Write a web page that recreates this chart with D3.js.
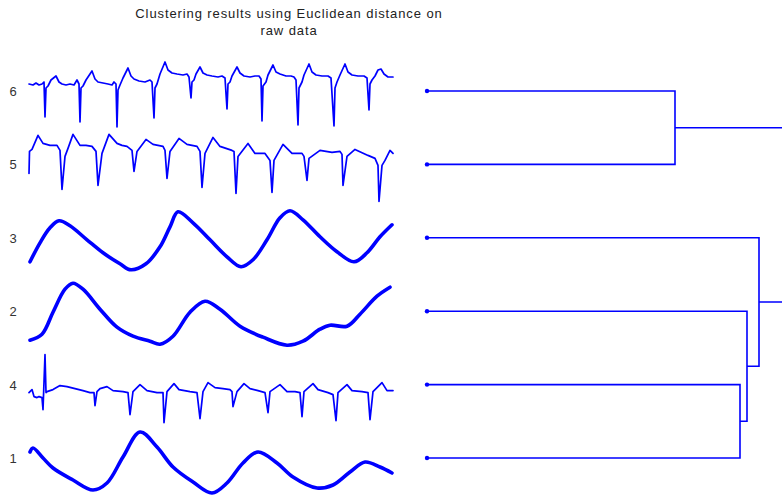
<!DOCTYPE html>
<html>
<head>
<meta charset="utf-8">
<script src="https://cdn.jsdelivr.net/npm/d3@7"></script>
<style>
  body { margin: 0; background: #fff; }
  svg { display: block; }
</style>
</head>
<body>
<svg id="chart" width="782" height="497"></svg>
<script>
// Leaf order of the dendrogram, top to bottom
const leafOrder = ["6", "5", "3", "2", "4", "1"];

// Raw series, [sample, amplitude]
const series6 = [[0,7],[4,6],[7,8],[10,6],[13,7],[15,9],[16,-26],[17,3],[19,5],[22,11],[27,15],[30,9],[33,7],[37,6],[41,7],[45,6],[48,11],[50,7],[51,-31],[52,3],[54,5],[57,11],[63,20],[66,12],[69,9],[74,8],[79,7],[83,6],[85,9],[87,7],[88,-36],[89,1],[91,6],[94,13],[99,23],[102,15],[105,12],[110,10],[116,9],[121,11],[123,9],[125,-27],[126,3],[128,7],[131,17],[136,29],[139,21],[143,18],[148,17],[154,16],[158,17],[160,14],[162,-7],[163,9],[165,11],[167,17],[171,24],[174,18],[178,16],[183,15],[189,14],[193,15],[196,13],[198,-18],[199,7],[201,9],[203,15],[208,24],[211,18],[215,15],[221,14],[226,15],[230,15],[232,12],[233,-30],[234,5],[237,9],[239,16],[244,26],[247,19],[251,17],[257,15],[262,15],[265,14],[267,11],[269,-34],[270,3],[273,9],[275,16],[280,27],[283,19],[287,16],[293,15],[299,15],[302,13],[305,-35],[306,3],[308,9],[311,16],[316,27],[319,19],[323,16],[329,15],[335,15],[338,13],[340,-19],[341,7],[343,11],[346,15],[349,21],[352,22],[355,17],[359,14],[364,14]];
const series5 = [[0,-9],[0.5,13],[3,15],[9,29],[14,21],[21,19],[28,19],[31,14],[33,-25],[36,8],[39,16],[44,30],[51,19],[57,19],[63,18],[67,13],[69,-21],[73,11],[80,30],[88,21],[93,19],[98,18],[103,14],[105,-7],[108,13],[117,25],[124,20],[134,18],[136,14],[138,-14],[141,13],[150,26],[158,20],[168,18],[171,13],[173,-23],[176,11],[184,27],[191,18],[203,14],[205,13],[207,-29],[209,8],[219,21],[226,11],[236,11],[241,4],[243,-28],[245,4],[254,20],[263,11],[273,11],[275,8],[278,-16],[280,6],[291,14],[303,12],[311,13],[313,10],[314,-21],[318,8],[326,15],[339,9],[346,6],[349,-1],[350,-37],[353,-1],[356,4],[361,14],[364,11]];
const series3 = [[1,-24],[11,-5],[21,10],[30,17],[41,12],[58,-2],[74,-15],[91,-26],[102,-32],[117,-26],[131,-9],[141,11],[149,26],[164,15],[181,-2],[198,-19],[212,-29],[224,-22],[238,-2],[251,20],[261,27],[274,18],[291,1],[308,-14],[325,-24],[338,-15],[351,1],[363,13]];
const series2 = [[1,-29],[13,-23],[24,-1],[36,22],[44,28],[54,22],[71,2],[88,-16],[104,-25],[121,-30],[131,-33],[144,-25],[161,-1],[176,10],[191,2],[211,-15],[234,-26],[258,-34],[274,-30],[291,-18],[301,-14],[318,-15],[331,-3],[348,15],[361,24]];
const series4 = [[0,-8],[3,-5],[5,-12],[8,-13],[10,-12],[13,-13],[14,-25],[16,30],[17,-8],[18,-7],[24,-5],[31,-1],[38,-2],[46,-4],[54,-6],[61,-8],[65,-8],[66,-21],[68,-7],[71,-4],[78,-2],[84,-6],[94,-7],[99,-8],[101,-30],[104,-7],[111,0],[118,-6],[128,-8],[134,-8],[135,-38],[138,-7],[145,1],[150,-5],[161,-7],[168,-8],[171,-34],[174,-7],[179,2],[186,-3],[194,-4],[201,-5],[203,-7],[204,-22],[208,-7],[215,1],[221,-4],[229,-6],[236,-8],[239,-28],[241,-7],[251,0],[258,-7],[266,-7],[271,-8],[273,-32],[275,-7],[284,1],[289,-5],[299,-8],[304,-10],[307,-36],[309,-8],[318,0],[323,-6],[333,-7],[339,-8],[341,-35],[344,-7],[353,2],[358,-6],[364,-6]];
const series1 = [[1,6],[4,10],[14,0],[24,-10],[44,-22],[64,-32],[78,-25],[94,1],[111,26],[128,11],[144,-9],[164,-24],[183,-35],[198,-25],[214,-5],[229,6],[248,-5],[264,-19],[288,-30],[304,-27],[321,-14],[336,-4],[351,-9],[363,-15]];

const seriesByLabel = { "6": series6, "5": series5, "3": series3, "2": series2, "4": series4, "1": series1 };

// Agglomerative merges: two members and the linkage distance
const mergeA = ["6", "4", "2", "3", "A"];
const mergeB = ["5", "1", "B", "C", "D"];
const mergeIds = ["A", "B", "C", "D", "R"];
const mergeHeights = [24.8, 31.3, 32.0, 33.2, 36.0];

const titleLines = ["Clustering results using Euclidean distance on", "raw data"];

const svg = d3.select("#chart");
const blue = "#0000ff";

const row = d3.scalePoint().domain(leafOrder).range([91, 458]);
const time = d3.scaleLinear().domain([0, 364]).range([29, 393]);
const amp = d3.scaleLinear().domain([-50, 50]).range([50, -50]);
const dist = d3.scaleLinear().domain([0, 35.5]).range([427, 782]);

// Title
svg.append("text")
  .attr("x", 289).attr("y", 18)
  .attr("text-anchor", "middle")
  .style("font-family", "'Liberation Sans', Arial, sans-serif")
  .style("font-size", "13px")
  .style("letter-spacing", "0.9px")
  .style("fill", "#222")
  .selectAll("tspan").data(titleLines).join("tspan")
  .attr("x", 289).attr("dy", (d, i) => i === 0 ? 0 : 17)
  .text(d => d);

// Leaf labels
svg.append("g").selectAll("text").data(leafOrder).join("text")
  .attr("x", 13).attr("y", d => row(d) + 5)
  .attr("text-anchor", "middle")
  .style("font-family", "'Liberation Sans', Arial, sans-serif")
  .style("font-size", "13px")
  .style("fill", "#333")
  .text(d => d);

// Series traces
const smooth = new Set(["3", "2", "1"]);
leafOrder.forEach(label => {
  const base = row(label);
  const line = d3.line()
    .x(d => time(d[0]))
    .y(d => base + amp(d[1]))
    .curve(smooth.has(label) ? d3.curveCatmullRom.alpha(0.5) : d3.curveLinear);
  svg.append("path")
    .datum(seriesByLabel[label])
    .attr("d", line)
    .attr("fill", "none")
    .attr("stroke", blue)
    .attr("stroke-width", smooth.has(label) ? 3.6 : 1.7)
    .attr("stroke-linejoin", "round")
    .attr("stroke-linecap", "round");
});

// Dendrogram
const nodes = {};
leafOrder.forEach(l => { nodes[l] = { x: dist(0), y: row(l) }; });
const links = [];
mergeIds.forEach((id, i) => {
  const a = nodes[mergeA[i]], b = nodes[mergeB[i]];
  const x = dist(mergeHeights[i]);
  nodes[id] = { x, y: (a.y + b.y) / 2 };
  links.push([a, b, x]);
});

const dg = svg.append("g");
dg.selectAll("path").data(links).join("path")
  .attr("d", d => `M${d[0].x},${d[0].y}H${d[2]}V${d[1].y}H${d[1].x}`)
  .attr("fill", "none")
  .attr("stroke", blue)
  .attr("stroke-width", 1.6);

dg.selectAll("circle").data(leafOrder).join("circle")
  .attr("cx", dist(0)).attr("cy", d => row(d))
  .attr("r", 2.2)
  .attr("fill", blue);
</script>
</body>
</html>
